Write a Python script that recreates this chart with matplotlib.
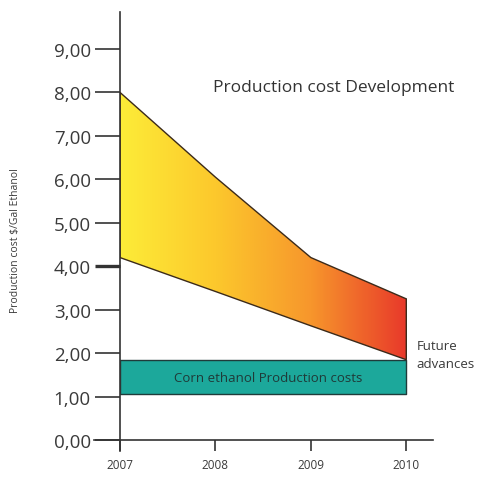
import numpy as np
import matplotlib
matplotlib.use("Agg")
import matplotlib.pyplot as plt
from matplotlib.colors import LinearSegmentedColormap
from matplotlib.patches import Polygon

years = [2007, 2008, 2009, 2010]
upper_cost = [8.0, 6.05, 4.2, 3.25]
lower_cost = [4.2, 3.42, 2.63, 1.85]
corn_low = 1.05
corn_high = 1.85
yticks = [0, 1, 2, 3, 4, 5, 6, 7, 8, 9]
ytick_labels = ["0,00", "1,00", "2,00", "3,00", "4,00", "5,00", "6,00", "7,00", "8,00", "9,00"]

plt.rcParams['font.family'] = ['Open Sans', 'DejaVu Sans']
txt = "#3a3a3a"

fig = plt.figure(figsize=(4.79, 4.81), dpi=100)
ax = fig.add_axes([0.2505, 0.0603, 0.6535, 0.9127])
ax.set_xlim(2007, 2010.28)
ax.set_ylim(-0.25, 9.85)

# gradient band between the two cost curves
cmap = LinearSegmentedColormap.from_list(
    "cost", ["#fdec38", "#fcc82c", "#f7962c", "#e8392a"])
grad = np.linspace(0, 1, 256).reshape(1, -1)
im = ax.imshow(grad, cmap=cmap, aspect="auto",
               extent=[years[0], years[-1], min(lower_cost), max(upper_cost)],
               zorder=1)
verts = list(zip(years, upper_cost)) + list(zip(years[::-1], lower_cost[::-1]))
poly = Polygon(verts, closed=True, facecolor="none", edgecolor="#3b2a1a",
               linewidth=1.0, zorder=3)
ax.add_patch(poly)
clip = Polygon(verts, closed=True, transform=ax.transData)
im.set_clip_path(clip)

# corn ethanol band
ax.fill_between([years[0], years[-1]], corn_low, corn_high,
                facecolor="#1ca89b", edgecolor="#1f3b3a", linewidth=1.0, zorder=2)
ax.text((years[0] + years[-1]) / 2 + 0.05, (corn_low + corn_high) / 2,
        "Corn ethanol Production costs", ha="center", va="center",
        fontsize=9.5, color="#1f3a38", zorder=4)

ax.text(2010.11, 1.98, "Future\nadvances", ha="left", va="center",
        fontsize=9.5, color=txt, linespacing=1.5)
ax.text(2009.24, 8.13, "Production cost Development", ha="center", va="center",
        fontsize=12.5, color="#333333")

# axes styling
for s in ["top", "right"]:
    ax.spines[s].set_visible(False)
ax.spines["left"].set_position(("data", 2007))
ax.spines["bottom"].set_position(("data", 0))
ax.spines["bottom"].set_bounds(2006.73, 2010.28)
for s in ["left", "bottom"]:
    ax.spines[s].set_color("#333333")
    ax.spines[s].set_linewidth(1.2)

ax.set_yticks(yticks)
ax.set_yticklabels(ytick_labels, fontsize=13.5, color=txt)
ax.set_xticks(years)
ax.set_xticklabels([str(y) for y in years], fontsize=8.5, color=txt)
ax.tick_params(axis="y", length=18, width=1.2, color="#333333", pad=3)
ax.tick_params(axis="x", length=8, width=1.2, color="#333333", pad=5)
ax.yaxis.get_major_ticks()[4].tick1line.set_markeredgewidth(2.4)

fig.text(0.032, 0.5, "Production cost $/Gal Ethanol", rotation=90,
         ha="center", va="center", fontsize=7.5, color=txt)

fig.savefig("out.png", dpi=100)
